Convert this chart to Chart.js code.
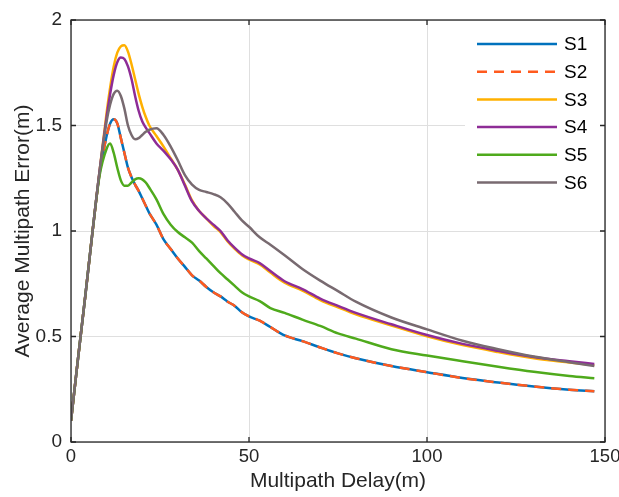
<!DOCTYPE html>
<html>
<head>
<meta charset="utf-8">
<script src="https://cdn.jsdelivr.net/npm/chart.js@4.4.0/dist/chart.umd.min.js"></script>
<style>
  html, body { margin: 0; padding: 0; background: #fff; }
</style>
</head>
<body>
<canvas id="chart" width="619" height="497"></canvas>
<script>
// multipath delay (m)
var delay = [0, 2, 4, 6, 8, 10, 11, 12, 13, 14, 15, 16, 17, 18, 19, 20, 21, 22,
    24, 26, 28, 30, 32, 34, 36, 38, 40, 42, 44, 46, 48, 50,
    53, 56, 60, 65, 70, 75, 80, 90, 100, 110, 120, 130, 140, 147];

// average multipath error (m) per scheme
var s1 = [0.10, 0.40, 0.69, 0.99, 1.27, 1.45, 1.51, 1.53, 1.51, 1.44, 1.37, 1.30, 1.255, 1.22, 1.19, 1.155, 1.12, 1.085,
    1.03, 0.96, 0.915, 0.87, 0.83, 0.79, 0.765, 0.735, 0.71, 0.69, 0.665, 0.645, 0.615, 0.595,
    0.575, 0.545, 0.505, 0.478, 0.448, 0.42, 0.397, 0.36, 0.331, 0.303, 0.282, 0.263, 0.248, 0.24];
var s2 = [0.10, 0.40, 0.69, 0.99, 1.27, 1.45, 1.51, 1.53, 1.51, 1.44, 1.37, 1.30, 1.255, 1.22, 1.19, 1.155, 1.12, 1.085,
    1.03, 0.96, 0.915, 0.87, 0.83, 0.79, 0.765, 0.735, 0.71, 0.69, 0.665, 0.645, 0.615, 0.595,
    0.575, 0.545, 0.505, 0.478, 0.448, 0.42, 0.397, 0.36, 0.331, 0.303, 0.282, 0.263, 0.248, 0.24];
var s3 = [0.10, 0.40, 0.69, 0.99, 1.28, 1.56, 1.68, 1.78, 1.845, 1.875, 1.88, 1.85, 1.79, 1.72, 1.65, 1.59, 1.54, 1.50,
    1.45, 1.40, 1.345, 1.29, 1.22, 1.145, 1.095, 1.06, 1.025, 0.995, 0.95, 0.915, 0.885, 0.865,
    0.842, 0.803, 0.755, 0.718, 0.673, 0.638, 0.605, 0.552, 0.501, 0.459, 0.426, 0.397, 0.377, 0.364];
var s4 = [0.10, 0.40, 0.69, 0.99, 1.28, 1.54, 1.65, 1.74, 1.80, 1.822, 1.815, 1.78, 1.72, 1.64, 1.57, 1.52, 1.49, 1.465,
    1.415, 1.38, 1.34, 1.29, 1.215, 1.14, 1.095, 1.06, 1.03, 1.0, 0.955, 0.92, 0.89, 0.87,
    0.848, 0.81, 0.762, 0.725, 0.68, 0.645, 0.612, 0.558, 0.507, 0.465, 0.432, 0.403, 0.383, 0.37];
var s5 = [0.10, 0.40, 0.69, 0.99, 1.26, 1.39, 1.415, 1.37, 1.30, 1.24, 1.215, 1.215, 1.23, 1.245, 1.25, 1.245, 1.23, 1.205,
    1.15, 1.08, 1.03, 0.995, 0.97, 0.945, 0.905, 0.87, 0.835, 0.80, 0.77, 0.74, 0.71, 0.69,
    0.668, 0.635, 0.612, 0.58, 0.55, 0.515, 0.49, 0.44, 0.41, 0.383, 0.357, 0.333, 0.313, 0.302];
var s6 = [0.10, 0.40, 0.69, 0.99, 1.28, 1.52, 1.60, 1.65, 1.665, 1.64, 1.58, 1.50, 1.455, 1.435, 1.44, 1.455, 1.47, 1.48,
    1.487, 1.455, 1.40, 1.335, 1.265, 1.22, 1.195, 1.185, 1.175, 1.16, 1.13, 1.09, 1.05, 1.02,
    0.97, 0.935, 0.885, 0.82, 0.765, 0.715, 0.665, 0.59, 0.534, 0.48, 0.44, 0.405, 0.378, 0.36];

var seriesNames = ['S1', 'S2', 'S3', 'S4', 'S5', 'S6'];
var seriesData = [s1, s2, s3, s4, s5, s6];
var seriesColors = ['#0072BD', '#FF5A1E', '#FFB000', '#8E2C96', '#4FAA1C', '#786A70'];
var seriesDash = [[], [10, 7], [], [], [], []];

var xTicks = [0, 50, 100, 150];
var yTicks = [0, 0.5, 1, 1.5, 2];

var fontFamily = '"Liberation Sans", Arial, Helvetica, sans-serif';
var axisColor = '#262626';

var datasets = seriesNames.map(function (name, i) {
    return {
        label: name,
        data: delay.map(function (d, j) { return { x: d, y: seriesData[i][j] }; }),
        borderColor: seriesColors[i],
        backgroundColor: seriesColors[i],
        borderWidth: 2.5,
        borderDash: seriesDash[i],
        pointRadius: 0,
        cubicInterpolationMode: 'monotone',
        order: seriesNames.length - i
    };
});

// box, inward ticks and legend drawn on top of the plot
var framePlugin = {
    id: 'frame',
    afterDraw: function (chart) {
        var ctx = chart.ctx;
        var a = chart.chartArea;
        var xs = chart.scales.x;
        var ys = chart.scales.y;
        ctx.save();

        // legend
        var lx = a.right - 128;
        ctx.fillStyle = '#fff';
        ctx.fillRect(a.right - 140, a.top + 2, 137, 176);
        ctx.font = '19px ' + fontFamily;
        ctx.textBaseline = 'middle';
        ctx.textAlign = 'left';
        chart.data.datasets.forEach(function (ds, i) {
            var ly = a.top + 24 + i * 27.7;
            ctx.strokeStyle = ds.borderColor;
            ctx.lineWidth = 2.5;
            ctx.setLineDash(ds.borderDash);
            ctx.beginPath();
            ctx.moveTo(lx, ly);
            ctx.lineTo(lx + 80, ly);
            ctx.stroke();
            ctx.setLineDash([]);
            ctx.fillStyle = '#000';
            ctx.fillText(ds.label, lx + 87, ly + 1);
        });

        ctx.strokeStyle = axisColor;
        ctx.lineWidth = 1.3;
        ctx.strokeRect(a.left, a.top, a.right - a.left, a.bottom - a.top);
        ctx.beginPath();
        xTicks.forEach(function (v) {
            var px = xs.getPixelForValue(v);
            ctx.moveTo(px, a.bottom); ctx.lineTo(px, a.bottom - 5);
            ctx.moveTo(px, a.top); ctx.lineTo(px, a.top + 5);
        });
        yTicks.forEach(function (v) {
            var py = ys.getPixelForValue(v);
            ctx.moveTo(a.left, py); ctx.lineTo(a.left + 5, py);
            ctx.moveTo(a.right, py); ctx.lineTo(a.right - 5, py);
        });
        ctx.stroke();
        ctx.restore();
    }
};

var ctx = document.getElementById('chart');
var myChart = new Chart(ctx, {
    type: 'line',
    data: { datasets: datasets },
    plugins: [framePlugin],
    options: {
        responsive: false,
        animation: false,
        devicePixelRatio: 1,
        layout: { padding: { top: 20, right: 14, left: 0, bottom: 0 } },
        plugins: { legend: { display: false }, tooltip: { enabled: false } },
        scales: {
            x: {
                type: 'linear',
                min: 0,
                max: 150,
                afterBuildTicks: function (s) { s.ticks = xTicks.map(function (v) { return { value: v }; }); },
                afterFit: function (s) { s.height = 55; s.paddingLeft = 0; s.paddingRight = 0; },
                border: { display: false },
                grid: { color: '#dfdfdf', lineWidth: 1, drawTicks: false },
                ticks: { color: axisColor, padding: 4, maxRotation: 0, font: { family: fontFamily, size: 18.5 } },
                title: {
                    display: true,
                    text: 'Multipath Delay(m)',
                    color: axisColor,
                    padding: { top: 0, bottom: 3 },
                    font: { family: fontFamily, size: 21 }
                }
            },
            y: {
                type: 'linear',
                min: 0,
                max: 2,
                afterBuildTicks: function (s) { s.ticks = yTicks.map(function (v) { return { value: v }; }); },
                afterFit: function (s) { s.width = 71; s.paddingTop = 0; s.paddingBottom = 0; },
                border: { display: false },
                grid: { color: '#dfdfdf', lineWidth: 1, drawTicks: false },
                ticks: {
                    color: axisColor,
                    padding: 9,
                    font: { family: fontFamily, size: 19 },
                    callback: function (v) { return String(v); }
                },
                title: {
                    display: true,
                    text: 'Average Multipath Error(m)',
                    color: axisColor,
                    padding: { top: 11, bottom: 0 },
                    font: { family: fontFamily, size: 21 }
                }
            }
        }
    }
});
</script>
</body>
</html>
